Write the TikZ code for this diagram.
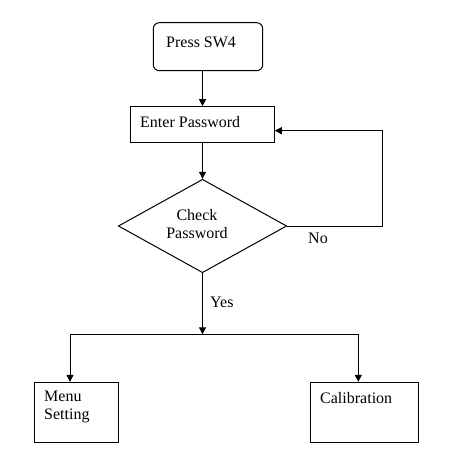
\documentclass[tikz,border=0pt]{standalone}
\usepackage{fontspec}
\setmainfont{Liberation Serif}
\usetikzlibrary{shapes.geometric,arrows.meta}
\begin{document}
\begin{tikzpicture}[x=1pt,y=-1pt,
  every node/.style={font=\fontsize{16}{18}\selectfont},
  box/.style={draw,line width=1pt,inner sep=0pt},
  lbl/.style={inner sep=0pt,anchor=west,align=left},
  arr/.style={line width=1pt,-{Triangle[length=7pt,width=7pt]}},
  ln/.style={line width=1pt}]
\useasboundingbox (0,0) rectangle (466,468);
% nodes
\node[box,rounded corners=6pt,minimum width=109.4pt,minimum height=48pt] (start) at (208,46.7) {};
\node[lbl] (starttxt) at (166,42) {Press SW4};
\node[box,minimum width=143.6pt,minimum height=35.6pt] (enter) at (202.5,124.5) {};
\node[lbl] (entertxt) at (140,122) {Enter Password};
\node[box,diamond,minimum width=168.4pt,minimum height=93.4pt] (check) at (202.5,226) {};
\node[inner sep=0pt,align=center] (checktxt) at (197,224) {Check\\Password};
\node[box,minimum width=84pt,minimum height=60pt] (menu) at (76.3,412.3) {};
\node[lbl] (menutxt) at (44,407) {Menu\\Setting};
\node[box,minimum width=108pt,minimum height=60pt] (cal) at (364.3,412.3) {};
\node[lbl] (caltxt) at (320,398) {Calibration};
\node[lbl] (no) at (308,238) {No};
\node[lbl] (yes) at (210,302) {Yes};
\coordinate (join) at (202.5,334.3);
\coordinate (jl) at (70,334.3);
\coordinate (jr) at (358.3,334.3);
\coordinate (nc) at (382.7,130.7);
% connectors
\draw[arr] (start.south -| enter.north) -- (enter.north);
\draw[arr] (enter.south) -- (check.north);
\draw[arr] (check.east) -| (nc) -- (nc -| enter.east);
\draw[arr] (check.south) -- (join);
\draw[ln] (jl) -- (jr);
\draw[arr] (jl) -- (jl |- menu.north);
\draw[arr] (jr) -- (jr |- cal.north);
\end{tikzpicture}
\end{document}
